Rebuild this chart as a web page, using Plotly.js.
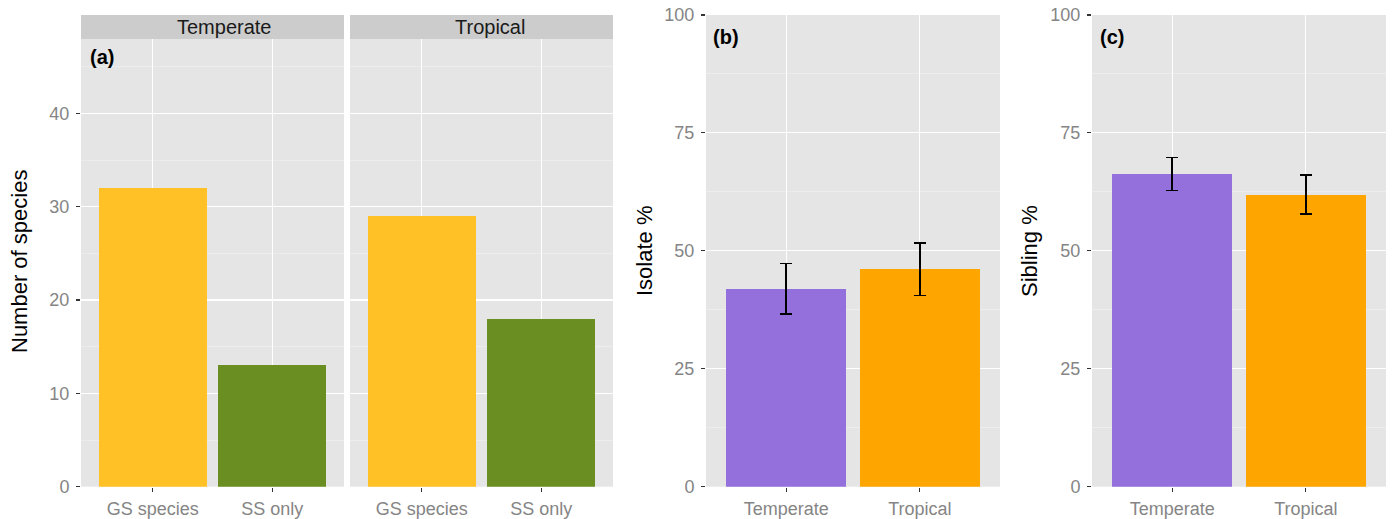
<!DOCTYPE html>
<html>
<head>
<meta charset="utf-8">
<script src="https://cdn.plot.ly/plotly-3.0.1.min.js"></script>
<style>html,body{margin:0;padding:0;background:#fff;}#chart{width:1392px;height:519px;}</style>
</head>
<body>
<div id="chart"></div>
<script>
// ---- data ----
const speciesCats = ["GS species", "SS only"];
const temperateCounts = [32, 13];
const tropicalCounts = [29, 18];
const speciesColors = ["#FFC125", "#6B8E23"];

const regions = ["Temperate", "Tropical"];
const regionColors = ["#9370DB", "#FFA500"];

const isolatePct = [41.9, 46.1];
const isolateUpper = [47.3, 51.7];
const isolateLower = [36.6, 40.5];

const siblingPct = [66.3, 61.8];
const siblingUpper = [69.8, 66.1];
const siblingLower = [62.8, 57.8];

const facetLabels = ["Temperate", "Tropical"];
const panelLabels = ["(a)", "(b)", "(c)"];

// ---- helpers ----
const W = 1392, H = 519;
const px = v => v / W;
const py = v => (H - v) / H;
const FONT = "Liberation Sans, Arial, sans-serif";
const tickFont = {family: FONT, size: 18, color: "#858585"};

function errArr(vals, up, lo) {
  return {
    up: up.map((u, i) => +(u - vals[i]).toFixed(2)),
    lo: lo.map((l, i) => +(vals[i] - l).toFixed(2))
  };
}
const eIso = errArr(isolatePct, isolateUpper, isolateLower);
const eSib = errArr(siblingPct, siblingUpper, siblingLower);

const traces = [
  {type: "bar", x: speciesCats, y: temperateCounts, marker: {color: speciesColors}, width: 0.9, xaxis: "x", yaxis: "y", hoverinfo: "x+y"},
  {type: "bar", x: speciesCats, y: tropicalCounts, marker: {color: speciesColors}, width: 0.9, xaxis: "x2", yaxis: "y2", hoverinfo: "x+y"},
  {type: "bar", x: regions, y: isolatePct, marker: {color: regionColors}, width: 0.9, xaxis: "x3", yaxis: "y3",
   error_y: {type: "data", symmetric: false, array: eIso.up, arrayminus: eIso.lo, color: "#000", thickness: 1.5, width: 6}},
  {type: "bar", x: regions, y: siblingPct, marker: {color: regionColors}, width: 0.9, xaxis: "x4", yaxis: "y4",
   error_y: {type: "data", symmetric: false, array: eSib.up, arrayminus: eSib.lo, color: "#000", thickness: 1.5, width: 6}}
];

const yDomA = [py(486.7), py(39)];
const yDomB = [py(486.7), py(15)];

function xAx(d0, d1, anchor) {
  return {domain: [px(d0), px(d1)], anchor: anchor, type: "category", range: [-0.6, 1.6],
    showgrid: true, gridcolor: "#FFFFFF", gridwidth: 1.1, zeroline: false, showline: false,
    ticks: "outside", ticklen: 4, tickwidth: 1.1, tickcolor: "#333333", tickfont: tickFont,
    ticklabelstandoff: 2, fixedrange: true};
}
function yAx(dom, anchor, range, dtick, minor, showLabels) {
  return {domain: dom, anchor: anchor, range: range, dtick: dtick, tick0: 0,
    showgrid: true, gridcolor: "#FFFFFF", gridwidth: 1.1, zeroline: false, showline: false,
    ticks: showLabels ? "outside" : "", ticklen: 4, tickwidth: 1.1, tickcolor: "#333333",
    showticklabels: showLabels, tickfont: tickFont, ticklabelstandoff: 3,
    minor: {dtick: minor, tick0: 0, showgrid: true, gridcolor: "#F2F2F2", gridwidth: 0.6, ticks: ""},
    fixedrange: true};
}

const layout = {
  width: W, height: H,
  margin: {l: 0, r: 0, t: 0, b: 0},
  paper_bgcolor: "#FFFFFF", plot_bgcolor: "#E5E5E5",
  showlegend: false, bargap: 0,
  font: {family: FONT},
  xaxis: xAx(81, 344, "y"),
  xaxis2: xAx(350, 613, "y2"),
  xaxis3: xAx(706, 1000, "y3"),
  xaxis4: xAx(1092, 1386, "y4"),
  yaxis: yAx(yDomA, "x", [0, 47.97], 10, 5, true),
  yaxis2: Object.assign(yAx(yDomA, "x2", [0, 47.97], 10, 5, false), {matches: "y"}),
  yaxis3: yAx(yDomB, "x3", [0, 100], 25, 12.5, true),
  yaxis4: yAx(yDomB, "x4", [0, 100], 25, 12.5, true),
  shapes: [
    {type: "rect", xref: "paper", yref: "paper", x0: px(81), x1: px(344), y0: py(39), y1: py(15), fillcolor: "#CCCCCC", line: {width: 0}},
    {type: "rect", xref: "paper", yref: "paper", x0: px(350), x1: px(613), y0: py(39), y1: py(15), fillcolor: "#CCCCCC", line: {width: 0}}
  ],
  annotations: [
    {xref: "paper", yref: "paper", x: px(224.5), y: py(27), text: facetLabels[0], showarrow: false, font: {family: FONT, size: 20, color: "#1A1A1A"}, xanchor: "center", yanchor: "middle"},
    {xref: "paper", yref: "paper", x: px(489.5), y: py(27), text: facetLabels[1], showarrow: false, font: {family: FONT, size: 20, color: "#1A1A1A"}, xanchor: "center", yanchor: "middle"},
    {xref: "paper", yref: "paper", x: px(88), y: py(57), text: "<b>" + panelLabels[0] + "</b>", showarrow: false, font: {family: FONT, size: 20, color: "#000"}, xanchor: "left", yanchor: "middle"},
    {xref: "paper", yref: "paper", x: px(711), y: py(37), text: "<b>" + panelLabels[1] + "</b>", showarrow: false, font: {family: FONT, size: 20, color: "#000"}, xanchor: "left", yanchor: "middle"},
    {xref: "paper", yref: "paper", x: px(1098), y: py(37), text: "<b>" + panelLabels[2] + "</b>", showarrow: false, font: {family: FONT, size: 20, color: "#000"}, xanchor: "left", yanchor: "middle"},
    {xref: "paper", yref: "paper", x: px(20), y: py(262), text: "Number of species", textangle: -90, showarrow: false, font: {family: FONT, size: 22, color: "#000"}, xanchor: "center", yanchor: "middle"},
    {xref: "paper", yref: "paper", x: px(645), y: py(251), text: "Isolate %", textangle: -90, showarrow: false, font: {family: FONT, size: 22, color: "#000"}, xanchor: "center", yanchor: "middle"},
    {xref: "paper", yref: "paper", x: px(1030), y: py(251), text: "Sibling %", textangle: -90, showarrow: false, font: {family: FONT, size: 22, color: "#000"}, xanchor: "center", yanchor: "middle"}
  ]
};

Plotly.newPlot("chart", traces, layout, {displayModeBar: false, staticPlot: true});
</script>
</body>
</html>
